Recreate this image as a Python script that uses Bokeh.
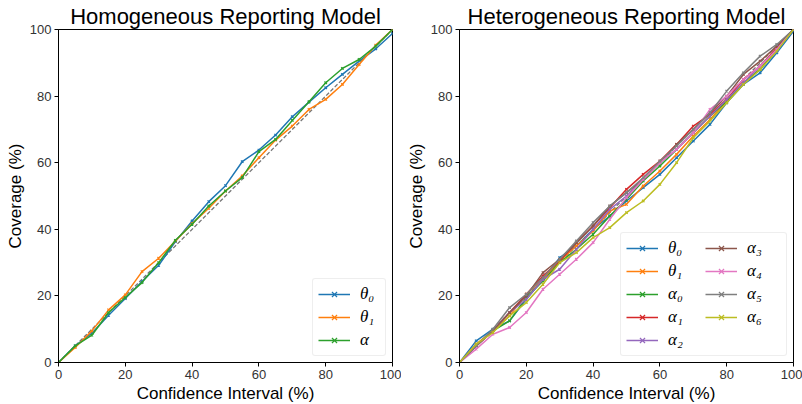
from bokeh.plotting import figure
from bokeh.layouts import row
from bokeh.models import Range1d, FixedTicker, Legend, LegendItem
from bokeh.embed import file_html
from bokeh.resources import INLINE

ci = [0, 5, 10, 15, 20, 25, 30, 35, 40, 45, 50, 55, 60, 65, 70, 75, 80, 85, 90, 95, 100]
ticks = [0, 20, 40, 60, 80, 100]

# Homogeneous model
hom_theta0 = [0, 5.0, 8.8, 14.2, 19.2, 24.3, 29.2, 36.3, 42.5, 48.3, 53.1, 60.3, 63.8, 68.3, 73.8, 78.2, 82.5, 86.5, 90.5, 94.2, 98.8]
hom_theta1 = [0, 4.5, 9.5, 15.8, 20.3, 27.3, 31.3, 36.5, 41.7, 46.3, 51.5, 56.0, 61.5, 66.8, 71.0, 76.0, 79.0, 83.5, 89.5, 95.3, 100]
hom_alpha = [0, 5.0, 8.2, 15.0, 19.5, 24.0, 30.0, 36.7, 41.5, 47.0, 51.5, 55.5, 63.3, 67.0, 72.7, 78.3, 84.0, 88.3, 91.0, 95.0, 100]

# Heterogeneous model
het_theta0 = [0, 6.5, 10.0, 12.5, 19.0, 25.0, 31.5, 35.0, 40.0, 44.0, 48.5, 52.5, 56.5, 61.5, 66.5, 71.5, 78.0, 83.5, 87.0, 93.0, 99.5]
het_theta1 = [0, 5.5, 9.5, 14.0, 20.5, 25.0, 30.5, 35.0, 39.5, 45.5, 47.5, 53.0, 57.5, 62.5, 68.0, 73.0, 78.5, 84.0, 88.0, 94.0, 100]
het_alpha0 = [0, 5.0, 9.5, 12.5, 19.5, 24.5, 30.0, 34.0, 38.5, 44.0, 49.0, 54.5, 59.0, 64.0, 69.0, 74.0, 78.5, 84.0, 88.0, 94.0, 100]
het_alpha1 = [0, 5.0, 9.5, 15.0, 20.5, 26.0, 30.5, 36.0, 41.0, 46.5, 52.0, 56.5, 60.5, 65.5, 71.0, 74.5, 79.0, 85.0, 89.0, 94.5, 100]
het_alpha2 = [0, 5.0, 9.5, 15.0, 19.0, 25.0, 28.0, 34.0, 40.0, 46.0, 50.0, 55.0, 60.0, 64.0, 69.0, 74.0, 79.0, 84.0, 89.0, 94.0, 100]
het_alpha3 = [0, 5.0, 9.5, 15.0, 20.0, 27.0, 31.0, 36.0, 41.0, 47.0, 51.0, 55.0, 60.0, 65.5, 70.0, 75.0, 80.0, 86.5, 90.5, 95.0, 100]
het_alpha4 = [0, 4.0, 8.5, 10.5, 15.0, 22.0, 26.5, 31.0, 36.0, 43.0, 49.5, 55.0, 60.0, 64.0, 69.0, 76.0, 80.0, 85.0, 89.0, 94.0, 100]
het_alpha5 = [0, 5.0, 10.0, 16.5, 20.5, 25.5, 31.0, 36.5, 42.0, 47.0, 51.0, 55.5, 60.5, 65.0, 70.0, 75.0, 81.5, 87.0, 92.0, 95.5, 100]
het_alpha6 = [0, 5.5, 9.0, 14.0, 18.0, 23.5, 30.0, 33.0, 37.5, 40.5, 45.0, 48.5, 53.5, 60.0, 67.5, 72.5, 78.0, 83.5, 88.0, 93.5, 100]

colors = ["#1f77b4", "#ff7f0e", "#2ca02c", "#d62728", "#9467bd",
          "#8c564b", "#e377c2", "#7f7f7f", "#bcbd22"]

hom_series = [("θ₀", hom_theta0), ("θ₁", hom_theta1), ("α", hom_alpha)]
het_series = [("θ₀", het_theta0), ("θ₁", het_theta1), ("α₀", het_alpha0),
              ("α₁", het_alpha1), ("α₂", het_alpha2), ("α₃", het_alpha3),
              ("α₄", het_alpha4), ("α₅", het_alpha5), ("α₆", het_alpha6)]

FONT = "Liberation Sans"


def make_fig(title, series, ncols):
    p = figure(output_backend="svg", toolbar_location=None,
               frame_width=334, frame_height=333,
               min_border_left=58, min_border_right=9,
               min_border_top=28, min_border_bottom=43,
               x_range=Range1d(0, 100), y_range=Range1d(0, 100),
               title=title)
    p.title.text_font = FONT
    p.title.text_font_size = "22px"
    p.title.text_font_style = "normal"
    p.title.text_color = "black"
    p.title.align = "center"
    p.title.standoff = 2
    p.title.offset = 0
    p.outline_line_color = "black"
    p.outline_line_width = 1
    p.outline_line_alpha = 1
    p.grid.visible = False
    p.background_fill_color = "white"
    p.border_fill_color = "white"
    for ax in (p.xaxis[0], p.yaxis[0]):
        ax.ticker = FixedTicker(ticks=ticks)
        ax.minor_tick_line_color = None
        ax.major_tick_out = 4
        ax.major_tick_in = 0
        ax.major_tick_line_color = "black"
        ax.axis_line_color = "black"
        ax.major_label_text_font = FONT
        ax.major_label_text_font_size = "13px"
        ax.major_label_text_color = "#333333"
        ax.major_label_standoff = 3
        ax.axis_label_text_font = FONT
        ax.axis_label_text_font_size = "17px"
        ax.axis_label_text_font_style = "normal"
        ax.axis_label_text_color = "black"
        ax.axis_label_standoff = 2
    p.xaxis.axis_label = "Confidence Interval (%)"
    p.yaxis.axis_label = "Coverage (%)"

    p.line([0, 100], [0, 100], line_color="#777777", line_dash="4 2", line_width=1.3)

    items = []
    for i, (lab, ys) in enumerate(series):
        c = colors[i]
        r1 = p.line(ci, ys, line_color=c, line_width=1.5)
        r2 = p.scatter(ci, ys, marker="x", size=3.5, line_color=c, line_width=1.2)
        items.append(LegendItem(label=lab, renderers=[r1, r2]))

    legend = Legend(items=items, location="bottom_right")
    legend.label_text_font = "Liberation Serif"
    legend.label_text_font_style = "italic"
    legend.label_text_font_size = "17px"
    legend.label_text_color = "black"
    legend.glyph_width = 32
    legend.glyph_height = 18
    legend.label_standoff = 10
    legend.spacing = 3
    legend.padding = 5
    legend.margin = 6
    legend.border_line_color = "#dddddd"
    legend.border_line_width = 1
    legend.border_radius = 3
    legend.background_fill_alpha = 0.85
    if ncols > 1:
        legend.nrows = 5
        legend.label_width = 34
    p.add_layout(legend)
    return p


p1 = make_fig("Homogeneous Reporting Model", hom_series, 1)
p2 = make_fig("Heterogeneous Reporting Model", het_series, 2)
layout = row(p1, p2)

open("out.html", "w").write(file_html(layout, INLINE))
